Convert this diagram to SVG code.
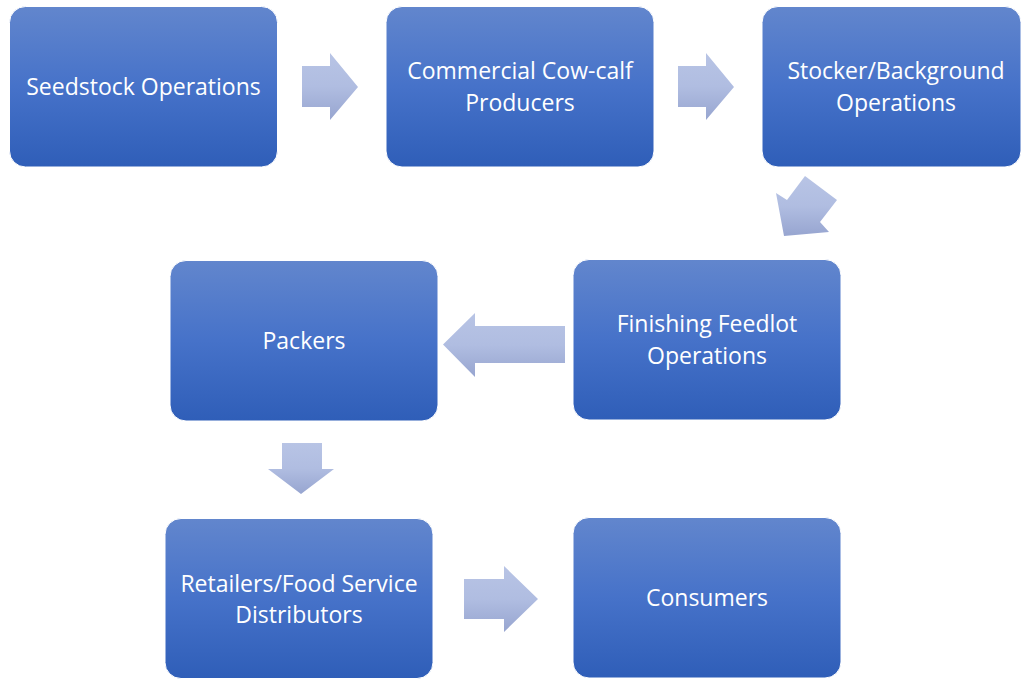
<svg xmlns="http://www.w3.org/2000/svg" width="1021" height="679" viewBox="0 0 1021 679">
  <defs>
    <linearGradient id="boxFill" x1="0" y1="0" x2="0" y2="1">
      <stop offset="0" stop-color="#6286cd"/>
      <stop offset="0.5" stop-color="#4672c9"/>
      <stop offset="1" stop-color="#2f5eb8"/>
    </linearGradient>
    <linearGradient id="arrowFill" x1="0" y1="0" x2="0" y2="1">
      <stop offset="0" stop-color="#b8c4e5"/>
      <stop offset="0.5" stop-color="#b0bde1"/>
      <stop offset="1" stop-color="#97a5d0"/>
    </linearGradient>
  </defs>
  <style>
    .box { fill: url(#boxFill); stroke: #ffffff; stroke-width: 1; }
    .label { font-family: "Open Sans", "Liberation Sans", sans-serif; font-size: 23px; fill: #ffffff; text-anchor: middle; }
    .arrow { fill: url(#arrowFill); stroke: none; }
  </style>

  <rect width="1021" height="679" fill="#ffffff"/>

  <!-- flow arrows between stages -->
  <g id="connectors">
    <polygon class="arrow" points="302,66 330,66 330,53 358,87 330,120 330,107 302,107"/>
    <polygon class="arrow" points="678,66 706,66 706,53 734,87 706,120 706,107 678,107"/>
    <polygon class="arrow" points="805,176 837,200 820,222 829,232 784,236 776,193 787,200"/>
    <polygon class="arrow" points="565,326 475,326 475,313 443,344.5 475,377 475,363 565,363"/>
    <polygon class="arrow" points="282,443 322,443 322,469 334,469 301,494 268,469 282,469"/>
    <polygon class="arrow" points="464,579 504,579 504,566 538,599 504,632 504,619 464,619"/>
  </g>

  <g id="seedstock">
    <rect class="box" x="9.5" y="6.5" width="268" height="160.5" rx="16"/>
    <text class="label" x="143.5" y="95">Seedstock Operations</text>
  </g>

  <g id="cow-calf">
    <rect class="box" x="386" y="6.5" width="268" height="160.5" rx="16"/>
    <text class="label" y="79"><tspan x="520">Commercial Cow-calf</tspan><tspan x="520" dy="31.5">Producers</tspan></text>
  </g>

  <g id="stocker">
    <rect class="box" x="762" y="6.5" width="259" height="160.5" rx="16"/>
    <text class="label" y="79"><tspan x="896">Stocker/Background</tspan><tspan x="896" dy="31.5">Operations</tspan></text>
  </g>

  <g id="feedlot">
    <rect class="box" x="573" y="259.5" width="268" height="160.5" rx="16"/>
    <text class="label" y="332"><tspan x="707">Finishing Feedlot</tspan><tspan x="707" dy="31.5">Operations</tspan></text>
  </g>

  <g id="packers">
    <rect class="box" x="170" y="260.5" width="268" height="160.5" rx="16"/>
    <text class="label" x="304" y="349">Packers</text>
  </g>

  <g id="retailers">
    <rect class="box" x="165" y="518.5" width="268" height="160" rx="16"/>
    <text class="label" y="591.5"><tspan x="299">Retailers/Food Service</tspan><tspan x="299" dy="31.5">Distributors</tspan></text>
  </g>

  <g id="consumers">
    <rect class="box" x="573" y="517.5" width="268" height="160.5" rx="16"/>
    <text class="label" x="707" y="606">Consumers</text>
  </g>
</svg>
